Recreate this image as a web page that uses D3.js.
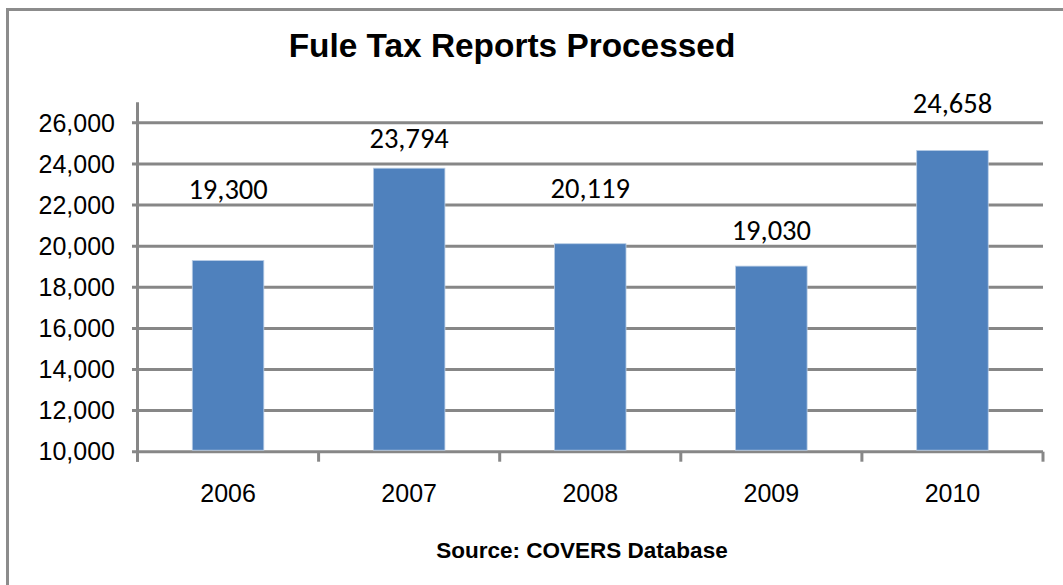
<!DOCTYPE html>
<html>
<head>
<meta charset="utf-8">
<script src="https://cdn.jsdelivr.net/npm/d3@7"></script>
<style>
  html, body { margin: 0; padding: 0; background: #fff; }
  svg { display: block; }
</style>
</head>
<body>
<svg id="chart" width="1063" height="585"></svg>
<script>
// ---- data ----
const categories = ["2006", "2007", "2008", "2009", "2010"];
const values = [19300, 23794, 20119, 19030, 24658];
const valueLabels = ["19,300", "23,794", "20,119", "19,030", "24,658"];
// where each value label sits (baseline, in data units, as placed in the source chart)
const labelLevels = [22300, 24760, 22330, 20300, 26470];
const yTicks = [10000, 12000, 14000, 16000, 18000, 20000, 22000, 24000, 26000];
const yDomain = [10000, 27000];
const titleText = "Fule Tax Reports Processed";
const sourceText = "Source: COVERS Database";

// ---- layout ----
const svg = d3.select("#chart");
const W = 1063, H = 585;
const plot = { left: 137.5, right: 1043, top: 102.3, bottom: 451.7 };
const gridColor = "#878787";
const barColor = "#4F81BD";

// outer border
svg.append("rect")
  .attr("x", 7.5).attr("y", 9.5)
  .attr("width", W + 20).attr("height", H + 20)
  .attr("fill", "#fff")
  .attr("stroke", "#8c8c8c").attr("stroke-width", 3);

const x = d3.scaleBand()
  .domain(categories)
  .range([plot.left, plot.right])
  .paddingInner(0.605)
  .paddingOuter(0.3025);

const y = d3.scaleLinear().domain(yDomain).range([plot.bottom, plot.top]);

// gridlines
svg.append("g").selectAll("line")
  .data(yTicks)
  .join("line")
  .attr("x1", plot.left - 5.5).attr("x2", plot.right)
  .attr("y1", d => y(d)).attr("y2", d => y(d))
  .attr("stroke", gridColor).attr("stroke-width", 3);

// y axis line
svg.append("line")
  .attr("x1", plot.left).attr("x2", plot.left)
  .attr("y1", y(yDomain[1])).attr("y2", plot.bottom + 10)
  .attr("stroke", gridColor).attr("stroke-width", 3);

// category tick marks (boundaries)
const step = x.step();
const boundaries = d3.range(categories.length + 1).map(i => plot.left + i * step);
svg.append("g").selectAll("line")
  .data(boundaries)
  .join("line")
  .attr("x1", d => d).attr("x2", d => d)
  .attr("y1", plot.bottom).attr("y2", plot.bottom + 10)
  .attr("stroke", gridColor).attr("stroke-width", 3);

// y tick labels
const fmt = d3.format(",");
svg.append("g").selectAll("text")
  .data(yTicks)
  .join("text")
  .attr("x", 115).attr("y", d => y(d))
  .attr("dy", "0.35em")
  .attr("text-anchor", "end")
  .attr("font-family", "Arial, 'Liberation Sans', sans-serif")
  .attr("font-size", 25)
  .attr("fill", "#000")
  .text(d => fmt(d));

// bars
svg.append("g").selectAll("rect")
  .data(values)
  .join("rect")
  .attr("x", (d, i) => x(categories[i]))
  .attr("width", x.bandwidth())
  .attr("y", d => y(d))
  .attr("height", d => plot.bottom - 1.5 - y(d))
  .attr("fill", barColor)
  .attr("stroke", "#b9cde5").attr("stroke-width", 0.8);

// value labels
svg.append("g").selectAll("text")
  .data(values)
  .join("text")
  .attr("x", (d, i) => x(categories[i]) + x.bandwidth() / 2)
  .attr("y", (d, i) => y(labelLevels[i]))
  .attr("text-anchor", "middle")
  .attr("font-family", "Calibri, Carlito, 'Noto Sans', sans-serif")
  .attr("font-size", 28.5)
  .attr("fill", "#000")
  .text((d, i) => valueLabels[i]);

// category labels
svg.append("g").selectAll("text")
  .data(categories)
  .join("text")
  .attr("x", d => x(d) + x.bandwidth() / 2)
  .attr("y", 501.7)
  .attr("text-anchor", "middle")
  .attr("font-family", "Arial, 'Liberation Sans', sans-serif")
  .attr("font-size", 25)
  .attr("fill", "#000")
  .text(d => d);

// title
svg.append("text")
  .attr("x", 512).attr("y", 56.7)
  .attr("text-anchor", "middle")
  .attr("font-family", "Arial, 'Liberation Sans', sans-serif")
  .attr("font-weight", "bold")
  .attr("font-size", 33.4)
  .attr("fill", "#000")
  .text(titleText);

// source note
svg.append("text")
  .attr("x", 582).attr("y", 557.7)
  .attr("text-anchor", "middle")
  .attr("font-family", "Arial, 'Liberation Sans', sans-serif")
  .attr("font-weight", "bold")
  .attr("font-size", 22.5)
  .attr("fill", "#000")
  .text(sourceText);
</script>
</body>
</html>
